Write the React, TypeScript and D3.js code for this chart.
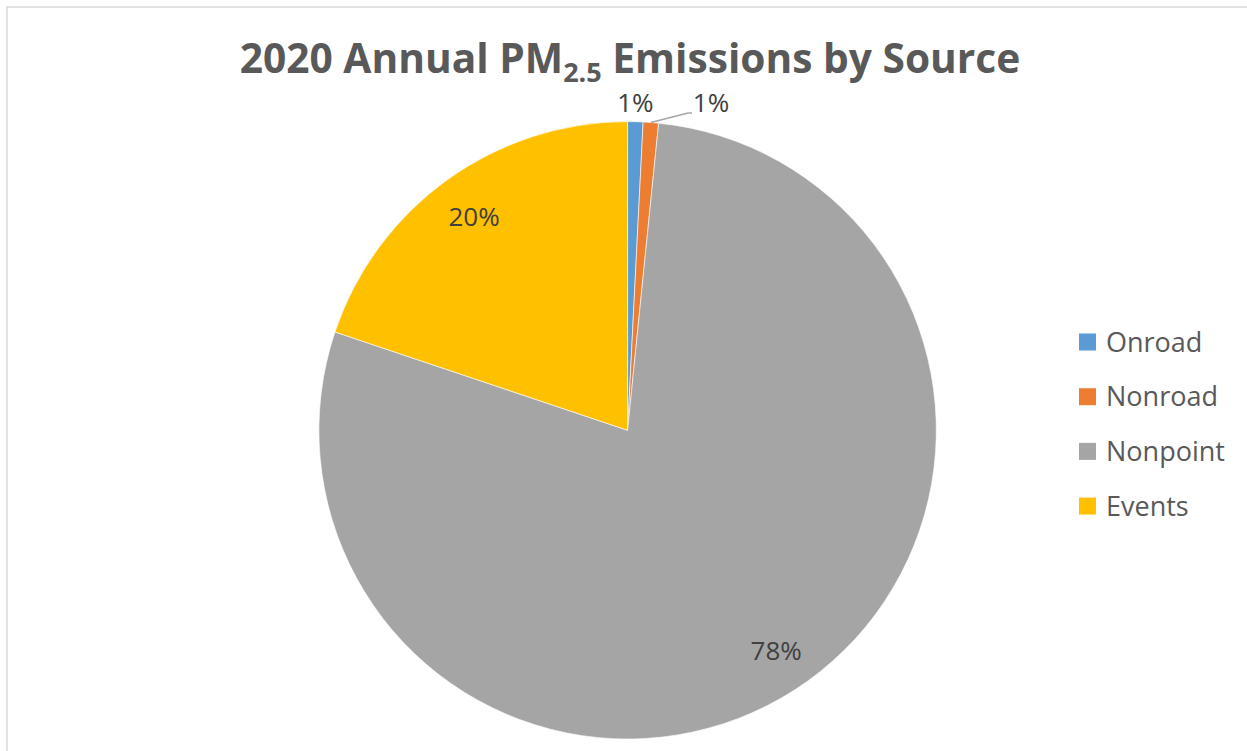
import React from "react";
import * as d3 from "d3";

const categories = ["Onroad", "Nonroad", "Nonpoint", "Events"];
const values = [0.8, 0.8, 78.4, 19.8];
const labels = ["1%", "1%", "78%", "20%"];
const colors = ["#5b9bd5", "#ed7d31", "#a5a5a5", "#ffc000"];

const W = 1247;
const H = 751;
const cx = 627.6;
const cy = 430.3;
const R = 308.7;

export default function App() {
  const pie = d3.pie<number>().sort(null).value((d) => d)(values);
  const arc = d3.arc<d3.PieArcDatum<number>>().innerRadius(0).outerRadius(R);
  const font = "'Open Sans', 'Noto Sans', sans-serif";
  const textColor = "#595959";
  const labelColor = "#404040";
  const labelSize = 26;

  const inside = (i: number) => {
    const p = pie[i];
    const mid = (p.startAngle + p.endAngle) / 2;
    const r = R * 0.852;
    return [cx + Math.sin(mid) * r + (i === 2 ? 6 : 0), cy - Math.cos(mid) * r + 9];
  };

  const onMid = (pie[0].startAngle + pie[0].endAngle) / 2;
  const nrMid = (pie[1].startAngle + pie[1].endAngle) / 2;
  const nrEdge = [cx + Math.sin(nrMid) * R, cy - Math.cos(nrMid) * R];
  const p2 = inside(2);
  const p3 = inside(3);

  return (
    <div style={{ position: "absolute", left: 0, top: 0 }}>
      <svg width={W} height={H} style={{ display: "block", background: "#fff" }}>
        <rect x={7} y={7} width={W + 20} height={H + 20} fill="#fff" stroke="#d9d9d9" strokeWidth={1.5} />
        <text x={630} y={73} textAnchor="middle" fontFamily={font} fontWeight={700} fontSize={40.7} fill={textColor}>
          2020 Annual PM
          <tspan fontSize={27} dy={9}>2.5</tspan>
          <tspan dy={-9}> Emissions by Source</tspan>
        </text>
        <g transform={`translate(${cx},${cy})`}>
          {pie.map((p, i) => (
            <path key={categories[i]} d={arc(p) || ""} fill={colors[i]} stroke="#fff" strokeWidth={0.6} />
          ))}
        </g>
        <polyline
          points={`${nrEdge[0]},${nrEdge[1]} ${688},${113} ${692},${113}`}
          fill="none"
          stroke="#a6a6a6"
          strokeWidth={1.5}
        />
        <text x={cx + Math.sin(onMid) * R} y={112} textAnchor="middle" fontFamily={font} fontSize={labelSize} fill={labelColor}>
          {labels[0]}
        </text>
        <text x={711} y={112} textAnchor="middle" fontFamily={font} fontSize={labelSize} fill={labelColor}>
          {labels[1]}
        </text>
        <text x={p2[0]} y={p2[1]} textAnchor="middle" fontFamily={font} fontSize={labelSize} fill={labelColor}>
          {labels[2]}
        </text>
        <text x={p3[0]} y={p3[1]} textAnchor="middle" fontFamily={font} fontSize={labelSize} fill={labelColor}>
          {labels[3]}
        </text>
        {categories.map((c, i) => (
          <g key={c} transform={`translate(1079,${342 + i * 54.7})`}>
            <rect x={0} y={-8.5} width={17} height={17} fill={colors[i]} />
            <text x={27} y={9.5} fontFamily={font} fontSize={27} fill={textColor}>
              {c}
            </text>
          </g>
        ))}
      </svg>
    </div>
  );
}
